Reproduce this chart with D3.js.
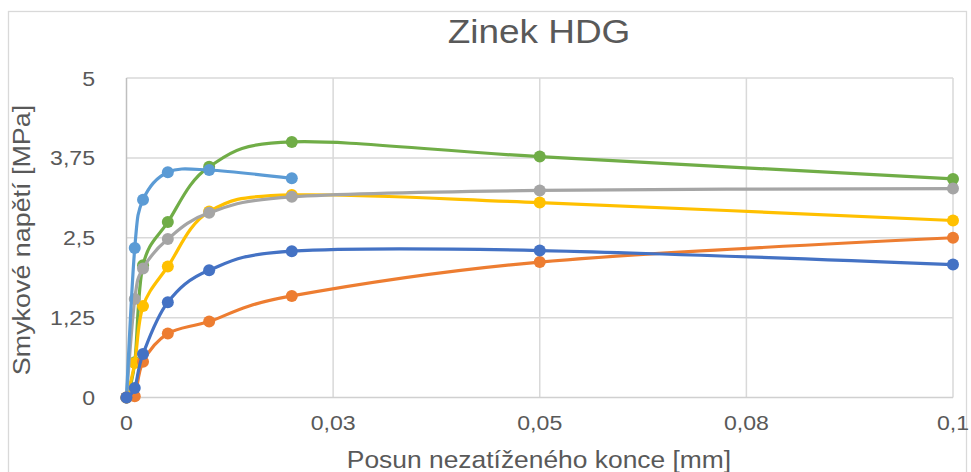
<!DOCTYPE html>
<html>
<head>
<meta charset="utf-8">
<script src="https://cdn.jsdelivr.net/npm/d3@7"></script>
<style>
  html, body { margin: 0; padding: 0; background: #fff; }
  svg { display: block; font-family: "Liberation Sans", Arial, sans-serif; }
</style>
</head>
<body>
<svg id="chart" width="971" height="472"></svg>
<script>
// Displacement of the unloaded end [mm]
const xValues = [0, 0.001, 0.002, 0.005, 0.01, 0.02, 0.05, 0.1];

// Shear stress [MPa] per specimen (series listed in drawing order)
const seriesGreen     = [0, 0.55, 2.07, 2.745, 3.61, 4.0, 3.77, 3.42];
const seriesYellow    = [0, 0.54, 1.43, 2.05, 2.91, 3.17, 3.05, 2.77];
const seriesGray      = [0, 1.54, 2.02, 2.48, 2.89, 3.14, 3.24, 3.27];
const seriesLightBlue = [0, 2.34, 3.095, 3.525, 3.56, 3.43];
const seriesOrange    = [0, 0.02, 0.56, 1.0, 1.19, 1.59, 2.12, 2.5];
const seriesBlue      = [0, 0.15, 0.68, 1.49, 1.99, 2.29, 2.30, 2.08];

const seriesColors = ["#70AD47", "#FFC000", "#A5A5A5", "#5B9BD5", "#ED7D31", "#4472C4"];
const allSeries = [seriesGreen, seriesYellow, seriesGray, seriesLightBlue, seriesOrange, seriesBlue];

const xTicks = [0, 0.025, 0.05, 0.075, 0.1];
const xTickLabels = ["0", "0,03", "0,05", "0,08", "0,1"];
const yTicks = [0, 1.25, 2.5, 3.75, 5];
const yTickLabels = ["0", "1,25", "2,5", "3,75", "5"];

const titleText = "Zinek HDG";
const xTitle = "Posun nezatíženého konce [mm]";
const yTitle = "Smykové napětí [MPa]";

const svg = d3.select("#chart");
const textColor = "#595959";
const stretch = 1.1;

const x = d3.scaleLinear().domain([0, 0.1]).range([126.5, 953]);
const y = d3.scaleLinear().domain([0, 5]).range([397.5, 78]);

// outer chart frame
svg.append("rect")
  .attr("x", 8.5).attr("y", 11.5)
  .attr("width", 958).attr("height", 480)
  .attr("fill", "none").attr("stroke", "#d9d9d9").attr("stroke-width", 1.3);

// gridlines
const grid = svg.append("g");
grid.selectAll("line.h").data(yTicks.slice(1)).join("line")
  .attr("x1", x(0)).attr("x2", x(0.1))
  .attr("y1", d => y(d)).attr("y2", d => y(d))
  .attr("stroke", "#d9d9d9").attr("stroke-width", 1.5);
grid.selectAll("line.v").data(xTicks.slice(1)).join("line")
  .attr("y1", y(0)).attr("y2", y(5))
  .attr("x1", d => x(d)).attr("x2", d => x(d))
  .attr("stroke", "#d9d9d9").attr("stroke-width", 1.5);

// axis lines
svg.append("line")
  .attr("x1", x(0)).attr("x2", x(0.1)).attr("y1", y(0)).attr("y2", y(0))
  .attr("stroke", "#d0d0d0").attr("stroke-width", 1.5);
svg.append("line")
  .attr("x1", x(0)).attr("x2", x(0)).attr("y1", y(0)).attr("y2", y(5))
  .attr("stroke", "#bfbfbf").attr("stroke-width", 1.5);

// text helper with slight horizontal stretch
function label(px, py, txt, size, anchor, sx) {
  return svg.append("text")
    .attr("transform", `translate(${px},${py}) scale(${sx || stretch},1)`)
    .attr("text-anchor", anchor)
    .attr("font-size", size)
    .attr("fill", textColor)
    .text(txt);
}

// tick labels
yTicks.forEach((t, i) => label(95, y(t) + 7.5, yTickLabels[i], 21, "end"));
xTicks.forEach((t, i) => label(x(t), 430, xTickLabels[i], 21, "middle"));

// titles
label(539, 43, titleText, 33, "middle", 1.12);
label(539, 468, xTitle, 24, "middle");
svg.append("text")
  .attr("transform", `translate(30,240) rotate(-90) scale(1.12,1)`)
  .attr("text-anchor", "middle")
  .attr("font-size", 24)
  .attr("fill", textColor)
  .text(yTitle);

// series: smoothed lines with markers
const line = d3.line()
  .x(d => x(d[0])).y(d => y(d[1]))
  .curve(d3.curveCardinal.tension(0));

allSeries.forEach((vals, i) => {
  const pts = vals.map((v, j) => [xValues[j], v]);
  const g = svg.append("g");
  g.append("path")
    .attr("d", line(pts))
    .attr("fill", "none")
    .attr("stroke", seriesColors[i])
    .attr("stroke-width", 3.2)
    .attr("stroke-linejoin", "round")
    .attr("stroke-linecap", "round");
  g.selectAll("circle").data(pts).join("circle")
    .attr("cx", d => x(d[0])).attr("cy", d => y(d[1]))
    .attr("r", 6)
    .attr("fill", seriesColors[i]);
});
</script>
</body>
</html>
